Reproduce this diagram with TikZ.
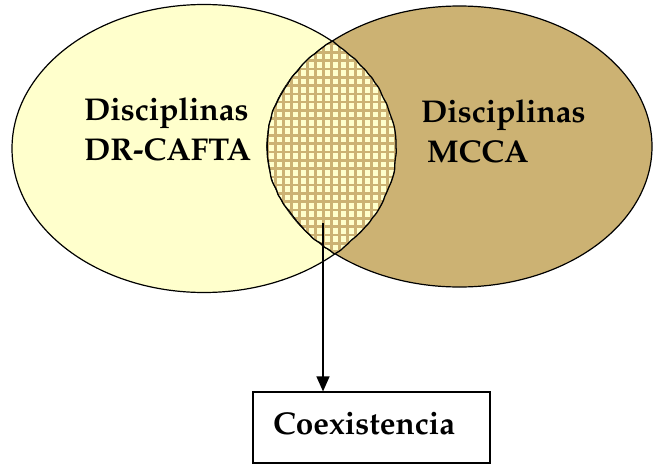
\documentclass[tikz,border=0pt]{standalone}
\usepackage[T1]{fontenc}
\usetikzlibrary{shapes.geometric,arrows.meta,decorations.pathmorphing}
\definecolor{paleyellow}{HTML}{FFFFCC}
\definecolor{tan}{HTML}{CCB273}
\tikzset{
  setbox/.style={ellipse, draw=black, line width=1.2pt, inner sep=0pt},
  label/.style={font=\fontfamily{ppl}\fontsize{31.5}{40}\bfseries\selectfont, align=left, inner sep=0pt},
  resultbox/.style={draw=black, line width=1.2pt, minimum width=237pt, minimum height=71pt, inner sep=0pt},
  link/.style={line width=1.2pt, -{Triangle[width=13pt,length=15pt]}},
  rough/.style={line width=1.3pt, decorate, decoration={random steps, segment length=5pt, amplitude=0.7pt}, rounded corners=1.5pt}
}
\begin{document}
\begin{tikzpicture}[x=1pt,y=-1pt]
\pgfmathsetseed{11}
\useasboundingbox (0,0) rectangle (653,466);
% the two sets
\node[setbox, fill=paleyellow, minimum width=384pt, minimum height=288pt] (dr) at (204,148.5) {};
\node[setbox, fill=tan, minimum width=385pt, minimum height=281pt] (mc) at (459.5,146.5) {};
% overlap: light ground with a tan grid
\begin{scope}
  \clip (204,148.5) ellipse [x radius=192pt, y radius=144pt];
  \clip (459.5,146.5) ellipse [x radius=192.5pt, y radius=140.5pt];
  \fill[paleyellow] (250,30) rectangle (410,270);
  \foreach \i in {259.3,267.3,...,405} \draw[tan, line width=2.6pt] (\i,30) -- (\i,270);
  \foreach \j in {35.7,44,...,270} \draw[tan, line width=2.6pt] (250,\j) -- (410,\j);
\end{scope}
% outline of the overlap
\begin{scope}
  \clip (459.5,146.5) ellipse [x radius=192.5pt, y radius=140.5pt];
  \draw[rough] (204,148.5) ellipse [x radius=192pt, y radius=144pt];
\end{scope}
\begin{scope}
  \clip (204,148.5) ellipse [x radius=192pt, y radius=144pt];
  \draw[rough] (459.5,146.5) ellipse [x radius=192.5pt, y radius=140.5pt];
\end{scope}
% labels (base anchor = baseline of the last line)
\node[label, anchor=base west] (drlabel) at (84,160) {Disciplinas\\DR-CAFTA};
\node[label, anchor=base west] (mclabel) at (421,162) {Disciplinas\\\hspace*{6pt}MCCA};
% result
\node[resultbox] (coex) at (371.5,427.5) {};
\node[label, anchor=base west] (coextext) at (273,434) {Coexistencia};
\coordinate (lensfoot) at (323,223);
\draw[link] (lensfoot) -- (lensfoot |- coex.north);
\end{tikzpicture}
\end{document}
